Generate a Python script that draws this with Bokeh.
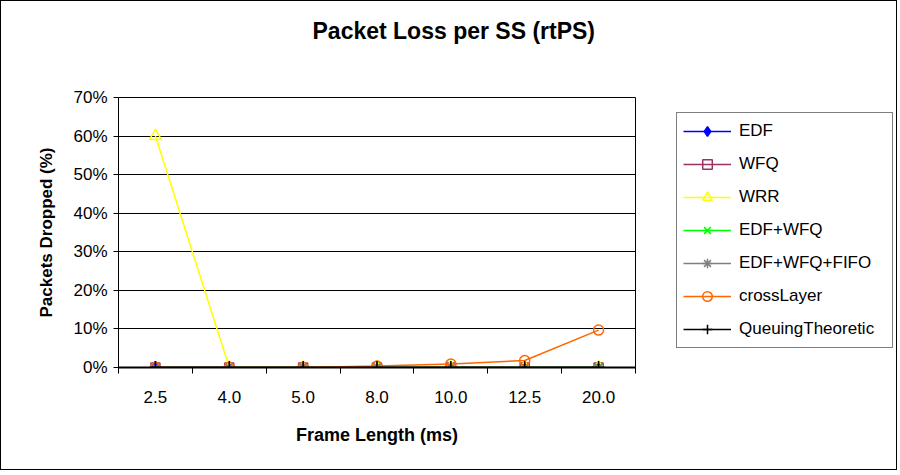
from bokeh.plotting import figure
from bokeh.models import (FixedTicker, NumeralTickFormatter, Legend, LegendItem, Title, Range1d)
from bokeh.layouts import row
from bokeh.embed import file_html
from bokeh.resources import INLINE

frame_lengths = ["2.5", "4.0", "5.0", "8.0", "10.0", "12.5", "20.0"]
edf = [0, 0, 0, 0, 0, 0, 0]
wfq = [0, 0, 0, 0, 0, 0, 0]
wrr = [0.60, 0, 0, 0, 0, 0, 0]
edf_wfq = [0, 0, 0, 0, 0, 0, 0]
edf_wfq_fifo = [0, 0, 0, 0, 0, 0, 0]
cross_layer = [0, 0, 0, 0.004, 0.009, 0.018, 0.097]
queuing_theoretic = [0, 0, 0, 0, 0, 0, 0]
y_ticks = [0, 0.1, 0.2, 0.3, 0.4, 0.5, 0.6, 0.7]

FONT = "Liberation Sans"
xs = list(range(1, len(frame_lengths) + 1))

p = figure(width=660, height=470, output_backend="svg", toolbar_location=None,
           x_range=(0.5, len(frame_lengths) + 0.5), y_range=(0, 0.7),
           min_border_left=118, min_border_right=25, min_border_top=97, min_border_bottom=103)
p.background_fill_color = "white"
p.border_fill_alpha = 0
p.outline_line_color = "black"
p.outline_line_width = 1

t = Title(text="Packet Loss per SS (rtPS)\n\n", align="left", offset=194,
          vertical_align="bottom",
          text_font=FONT, text_font_size="23px", text_font_style="bold",
          text_color="black", standoff=4)
p.add_layout(t, "above")

# x axis
p.xaxis.ticker = FixedTicker(ticks=xs, minor_ticks=[x - 0.5 for x in xs] + [xs[-1] + 0.5])
p.xaxis.major_label_overrides = {x: lab for x, lab in zip(xs, frame_lengths)}
p.xaxis.major_tick_line_color = None
p.xaxis.minor_tick_line_color = "black"
p.xaxis.minor_tick_out = 6
p.xaxis.minor_tick_in = 0
p.xaxis.axis_line_color = "black"
p.xaxis.axis_line_width = 2
p.xaxis.major_label_text_font = FONT
p.xaxis.major_label_text_font_size = "17px"
p.xaxis.major_label_text_color = "black"
p.xaxis.major_label_standoff = 17
p.xaxis.axis_label = "Frame Length (ms)"
p.xaxis.axis_label_text_font = FONT
p.xaxis.axis_label_text_font_size = "18px"
p.xaxis.axis_label_text_font_style = "bold"
p.xaxis.axis_label_text_color = "black"
p.xaxis.axis_label_standoff = 19

# y axis
p.yaxis.ticker = FixedTicker(ticks=y_ticks, minor_ticks=[])
p.yaxis.formatter = NumeralTickFormatter(format="0%")
p.yaxis.major_tick_out = 5
p.yaxis.major_tick_in = 0
p.yaxis.major_tick_line_color = "black"
p.yaxis.axis_line_color = "black"
p.yaxis.major_label_text_font = FONT
p.yaxis.major_label_text_font_size = "17px"
p.yaxis.major_label_text_color = "black"
p.yaxis.major_label_standoff = 6
p.yaxis.axis_label = "Packets Dropped (%)"
p.yaxis.axis_label_text_font = FONT
p.yaxis.axis_label_text_font_size = "17px"
p.yaxis.axis_label_text_font_style = "bold"
p.yaxis.axis_label_text_color = "black"
p.yaxis.axis_label_standoff = 14

p.xgrid.grid_line_color = None
p.ygrid.grid_line_color = "black"
p.ygrid.grid_line_width = 1
p.ygrid.grid_line_alpha = 1

series = [
    ("EDF", edf, "#0000FF", "diamond", "#0000FF", 12),
    ("WFQ", wfq, "#993366", "square", None, 9),
    ("WRR", wrr, "#FFFF00", "triangle", None, 12),
    ("EDF+WFQ", edf_wfq, "#00FF00", "x", None, 10),
    ("EDF+WFQ+FIFO", edf_wfq_fifo, "#808080", "asterisk", None, 11),
    ("crossLayer", cross_layer, "#FF6600", "circle", None, 10),
    ("QueuingTheoretic", queuing_theoretic, "#000000", "cross", None, 13),
]

# legend lives in its own figure to the right of the chart (its ranges show no data)
lg = figure(width=237, height=470, output_backend="svg", toolbar_location=None,
            x_range=Range1d(-2, -1), y_range=Range1d(0, 1),
            x_axis_location=None, y_axis_location=None,
            min_border_left=0, min_border_right=0, min_border_top=0, min_border_bottom=0)
lg.outline_line_color = None
lg.xgrid.grid_line_color = None
lg.ygrid.grid_line_color = None
lg.background_fill_alpha = 0
lg.border_fill_alpha = 0

items = []
for name, ys, color, marker, fill, size in series:
    p.line(xs, ys, line_color=color, line_width=1.5)
    p.scatter(xs, ys, marker=marker, size=size, line_color=color, line_width=1.5,
              fill_color=fill if fill else None)
    ln = lg.line(xs, ys, line_color=color, line_width=1.5)
    sc = lg.scatter(xs, ys, marker=marker, size=size, line_color=color, line_width=1.5,
                    fill_color=fill if fill else None)
    items.append(LegendItem(label=name, renderers=[ln, sc]))

legend = Legend(items=items, location=(16, 19), label_text_font=FONT,
                label_text_font_size="17px", label_text_color="black",
                glyph_width=48, glyph_height=24, label_height=24, label_width=147,
                spacing=9, padding=6, margin=0,
                border_line_color="black", border_line_width=1,
                background_fill_color="white", label_standoff=8)
lg.add_layout(legend, "center")

layout = row(p, lg, spacing=0)
layout.styles = {"outline": "1px solid black", "outline-offset": "-1px",
                 "background-color": "white"}

open("out.html", "w").write(file_html(layout, INLINE))
